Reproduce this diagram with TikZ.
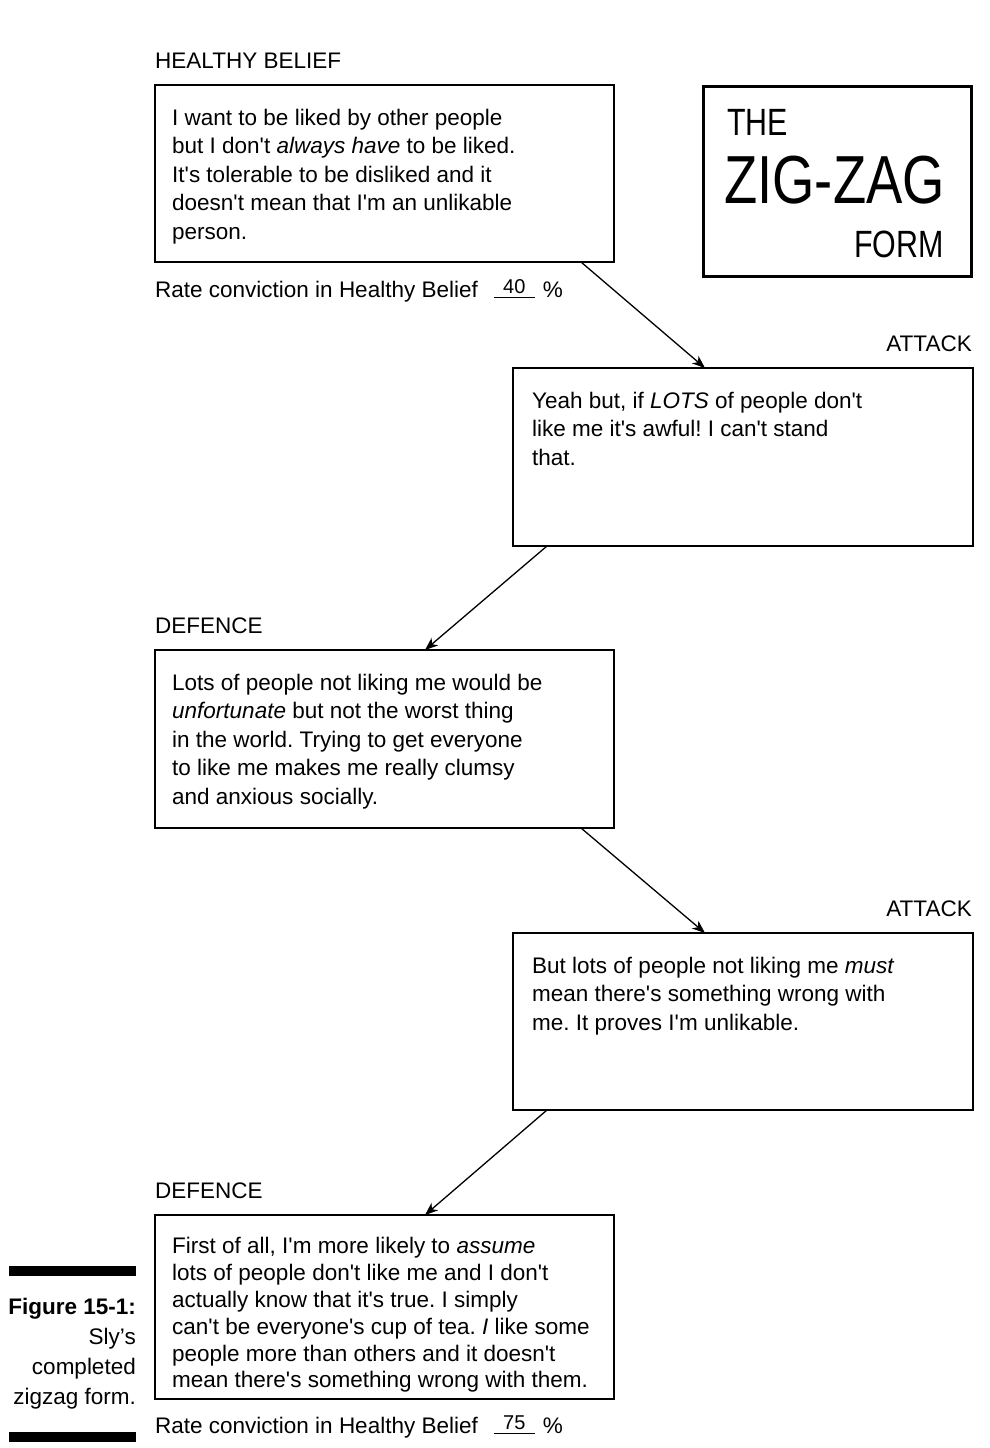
\documentclass[tikz,border=0pt]{standalone}
\usepackage{fontspec}
\setmainfont{Liberation Sans}
\newfontfamily\titlefont{Liberation Sans}[FakeStretch=0.8]
\usetikzlibrary{arrows.meta}
\frenchspacing
\newcommand{\sq}{\textquotesingle}
\newcommand{\ratefill}[1]{\hspace{16pt}\rlap{\rule[-1pt]{41pt}{1.3pt}}\makebox[41pt]{\raisebox{4pt}{\fontsize{20}{20}\selectfont #1}}\hspace{8pt}\%}
\tikzset{
  formbox/.style={draw,line width=1.4pt,inner sep=0pt,outer sep=0pt,anchor=north west},
  formtext/.style={inner sep=0pt,anchor=north west,align=left,font=\fontsize{22.5}{28.5}\selectfont},
  formlabel/.style={inner sep=0pt,font=\fontsize{22.5}{28.5}\selectfont},
  zigline/.style={line width=1.3pt,->}
}
\begin{document}
\begin{tikzpicture}[x=1pt,y=-1pt,>={Stealth[length=13pt,width=10pt,inset=4pt]}]
  \useasboundingbox (0,0) rectangle (989,1448);
  %% title
  \node[formbox,line width=3pt,minimum width=268pt,minimum height=190pt] (title) at (703.5,86.5) {};
  \node[inner sep=0pt,anchor=base west,font=\titlefont\fontsize{38}{38}\selectfont] (the) at (727,135) {THE};
  \node[inner sep=0pt,anchor=base west,font=\titlefont\fontsize{68}{68}\selectfont] (zigzag) at (724,203) {ZIG-ZAG};
  \node[inner sep=0pt,anchor=base east,font=\titlefont\fontsize{38}{38}\selectfont] (form) at (944,257) {FORM};
  %% healthy belief
  \node[formbox,minimum width=459pt,minimum height=177pt] (belief) at (155,85) {};
  \node[formlabel,anchor=base west] (beliefhead) at ([yshift=17pt]belief.north west) {HEALTHY BELIEF};
  \node[formtext] (belieftext) at ([xshift=17pt,yshift=-20pt]belief.north west) {\strut I want to be liked by other people\\but I don\sq t \textit{always have} to be liked.\\It\sq s tolerable to be disliked and it\\doesn\sq t mean that I\sq m an unlikable\\person.};
  \node[formlabel,anchor=base west] (rateone) at ([yshift=-35pt]belief.south west) {Rate conviction in Healthy Belief\ratefill{40}};
  %% first attack
  \node[formbox,minimum width=460pt,minimum height=178pt] (attackone) at (513,368) {};
  \node[formlabel,anchor=base east] (attackonehead) at ([xshift=-1pt,yshift=17pt]attackone.north east) {ATTACK};
  \node[formtext] (attackonetext) at ([xshift=19pt,yshift=-20pt]attackone.north west) {\strut Yeah but, if \textit{LOTS} of people don\sq t\\like me it\sq s awful! I can\sq t stand\\that.};
  %% first defence
  \node[formbox,minimum width=459pt,minimum height=178pt] (defenceone) at (155,650) {};
  \node[formlabel,anchor=base west] (defenceonehead) at ([yshift=17pt]defenceone.north west) {DEFENCE};
  \node[formtext] (defenceonetext) at ([xshift=17pt,yshift=-20pt]defenceone.north west) {\strut Lots of people not liking me would be\\\textit{unfortunate} but not the worst thing\\in the world. Trying to get everyone\\to like me makes me really clumsy\\and anxious socially.};
  %% second attack
  \node[formbox,minimum width=460pt,minimum height=177pt] (attacktwo) at (513,933) {};
  \node[formlabel,anchor=base east] (attacktwohead) at ([xshift=-1pt,yshift=17pt]attacktwo.north east) {ATTACK};
  \node[formtext] (attacktwotext) at ([xshift=19pt,yshift=-20pt]attacktwo.north west) {\strut But lots of people not liking me \textit{must}\\mean there\sq s something wrong with\\me. It proves I\sq m unlikable.};
  %% second defence
  \node[formbox,minimum width=459pt,minimum height=184pt] (defencetwo) at (155,1215) {};
  \node[formlabel,anchor=base west] (defencetwohead) at ([yshift=17pt]defencetwo.north west) {DEFENCE};
  \node[formtext,font=\fontsize{22.5}{26.8}\selectfont] (defencetwotext) at ([xshift=17pt,yshift=-20pt]defencetwo.north west) {\strut First of all, I\sq m more likely to \textit{assume}\\lots of people don\sq t like me and I don\sq t\\actually know that it\sq s true. I simply\\can\sq t be everyone\sq s cup of tea. \textit{I} like some\\people more than others and it doesn\sq t\\mean there\sq s something wrong with them.};
  \node[formlabel,anchor=base west] (ratetwo) at ([yshift=-34pt]defencetwo.south west) {Rate conviction in Healthy Belief\ratefill{75}};
  %% zig-zag arrows
  \draw[zigline] ([xshift=-33pt]belief.south east) -- ([xshift=192pt]attackone.north west);
  \draw[zigline] ([xshift=34pt]attackone.south west) -- ([xshift=270pt]defenceone.north west);
  \draw[zigline] ([xshift=-33pt]defenceone.south east) -- ([xshift=192pt]attacktwo.north west);
  \draw[zigline] ([xshift=34pt]attacktwo.south west) -- ([xshift=270pt]defencetwo.north west);
  %% caption
  \fill (9,1266) rectangle (136,1276);
  \node[inner sep=0pt,anchor=north east,align=right,font=\fontsize{22.5}{30}\selectfont] (figcap) at (136,1293) {\strut\textbf{Figure 15-1:}\\Sly’s\\completed\\zigzag form.};
  \fill (9,1432) rectangle (136,1442);
\end{tikzpicture}
\end{document}
